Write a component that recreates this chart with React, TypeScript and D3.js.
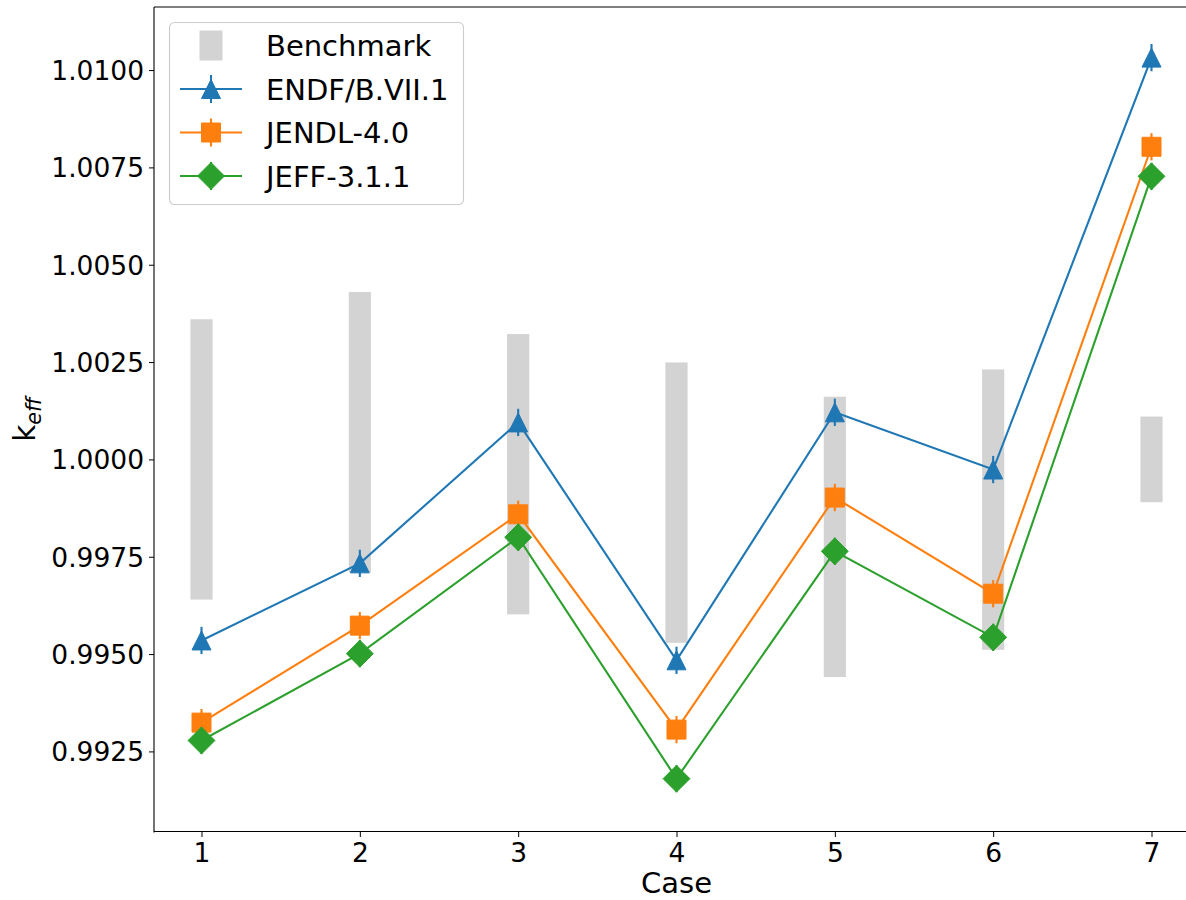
import React, { useRef, useEffect } from "react";
import * as d3 from "d3";

// data
const cases = [1, 2, 3, 4, 5, 6, 7];
const benchK = [1.0, 1.0007, 0.99962, 0.99889, 0.99801, 0.99871, 1.0];
const benchUnc = [0.0036, 0.0036, 0.0036, 0.0036, 0.0036, 0.0036, 0.0011];
const endfK = [0.99535, 0.99733, 1.00095, 0.99484, 1.00121, 0.99974, 1.01032];
const endfUnc = [0.00035, 0.00035, 0.00035, 0.00035, 0.00035, 0.00035, 0.00035];
const jendlK = [0.99324, 0.99573, 0.99859, 0.99306, 0.99902, 0.99655, 1.00803];
const jendlUnc = [0.00035, 0.00035, 0.00035, 0.00035, 0.00035, 0.00035, 0.00035];
const jeffK = [0.99278, 0.99501, 0.998, 0.9918, 0.99764, 0.99543, 1.00727];
const jeffUnc = [0.00035, 0.00035, 0.00035, 0.00035, 0.00035, 0.00035, 0.00035];
const yTicks = [0.9925, 0.995, 0.9975, 1.0, 1.0025, 1.005, 1.0075, 1.01];
const seriesNames = ["ENDF/B.VII.1", "JENDL-4.0", "JEFF-3.1.1"];

const W = 1186;
const H = 900;
const FONT = "'DejaVu Sans', sans-serif";

const markerPath = (shape, s) => {
  const h = s / 2;
  if (shape === "tri") return `M0,${-h}L${h},${h}L${-h},${h}Z`;
  if (shape === "sq") return `M${-h},${-h}H${h}V${h}H${-h}Z`;
  const d = h * Math.SQRT2;
  return `M0,${-d}L${d},0L0,${d}L${-d},0Z`;
};

const App = () => {
  const chartRef = useRef(null);

  useEffect(() => {
    drawChart();
  }, []);

  const drawChart = () => {
    if (!chartRef.current) return;
    const left = 154, right = 1199, top = 7, bottom = 832;

    d3.select(chartRef.current).selectAll("*").remove();
    const svg = d3.select(chartRef.current);

    const x = d3.scaleLinear().domain([0.7, 7.3]).range([left, right]);
    const y = d3.scaleLinear().domain([0.99043, 1.01162]).range([bottom, top]);

    const series = [
      { name: seriesNames[0], k: endfK, unc: endfUnc, color: "#1f77b4", shape: "tri" },
      { name: seriesNames[1], k: jendlK, unc: jendlUnc, color: "#ff7f0e", shape: "sq" },
      { name: seriesNames[2], k: jeffK, unc: jeffUnc, color: "#2ca02c", shape: "dia" },
    ];

    const plot = svg.append("g");

    // benchmark bands
    const bw = x(1.07) - x(1);
    plot
      .selectAll(".bench")
      .data(cases)
      .enter()
      .append("rect")
      .attr("x", (d) => x(d) - bw)
      .attr("width", bw * 2)
      .attr("y", (d, i) => y(benchK[i] + benchUnc[i]))
      .attr("height", (d, i) => y(benchK[i] - benchUnc[i]) - y(benchK[i] + benchUnc[i]))
      .attr("fill", "#d3d3d3");

    const line = d3
      .line()
      .x((d) => x(d[0]))
      .y((d) => y(d[1]));

    series.forEach((s) => {
      const pts = cases.map((c, i) => [c, s.k[i]]);
      plot
        .append("path")
        .attr("d", line(pts))
        .attr("fill", "none")
        .attr("stroke", s.color)
        .attr("stroke-width", 2.1);
      plot
        .selectAll(null)
        .data(cases)
        .enter()
        .append("line")
        .attr("x1", (d) => x(d))
        .attr("x2", (d) => x(d))
        .attr("y1", (d, i) => y(s.k[i] + s.unc[i]))
        .attr("y2", (d, i) => y(s.k[i] - s.unc[i]))
        .attr("stroke", s.color)
        .attr("stroke-width", 2.1);
      plot
        .selectAll(null)
        .data(cases)
        .enter()
        .append("path")
        .attr("transform", (d, i) => `translate(${x(d)},${y(s.k[i])})`)
        .attr("d", markerPath(s.shape, 19))
        .attr("fill", s.color)
        .attr("stroke", s.color)
        .attr("stroke-width", 1);
    });

    // axes
    const yAxis = svg
      .append("g")
      .attr("transform", `translate(${left},0)`)
      .call(d3.axisLeft(y).tickValues(yTicks).tickFormat(d3.format(".4f")).tickSize(5).tickPadding(5));
    yAxis.select(".domain").remove();
    yAxis.selectAll("text").attr("font-size", 26.5).attr("font-family", FONT).attr("fill", "#000").attr("dy", "0.36em");

    const xAxis = svg
      .append("g")
      .attr("transform", `translate(0,${bottom})`)
      .call(d3.axisBottom(x).tickValues(cases).tickFormat(d3.format("d")).tickSize(5).tickPadding(5));
    xAxis.select(".domain").remove();
    xAxis.selectAll("text").attr("font-size", 26.5).attr("font-family", FONT).attr("fill", "#000").attr("dy", "0.76em");

    // spines
    svg.append("line").attr("x1", left).attr("x2", left).attr("y1", top).attr("y2", bottom + 0.5).attr("stroke", "#000").attr("stroke-width", 1.1);
    svg.append("line").attr("x1", left).attr("x2", right).attr("y1", top).attr("y2", top).attr("stroke", "#000").attr("stroke-width", 1.1);
    svg.append("line").attr("x1", left).attr("x2", right).attr("y1", bottom - 0.5).attr("y2", bottom - 0.5).attr("stroke", "#000").attr("stroke-width", 1);
    svg.append("line").attr("x1", right).attr("x2", right).attr("y1", top).attr("y2", bottom).attr("stroke", "#000").attr("stroke-width", 1.1);

    // axis labels
    svg
      .append("text")
      .attr("x", (left + right) / 2)
      .attr("y", 893)
      .attr("text-anchor", "middle")
      .attr("font-family", FONT)
      .attr("font-size", 29)
      .text("Case");

    const yl = svg
      .append("text")
      .attr("transform", `translate(35,${(top + bottom) / 2}) rotate(-90)`)
      .attr("text-anchor", "middle")
      .attr("font-family", FONT)
      .attr("font-size", 29.5);
    yl.append("tspan").text("k");
    yl.append("tspan").attr("font-style", "italic").attr("font-size", 20.5).attr("dy", 6).text("eff");

    // legend
    const lg = svg.append("g");
    lg.append("rect")
      .attr("x", 169.5).attr("y", 22.5).attr("width", 294).attr("height", 182).attr("rx", 5)
      .attr("fill", "#fff").attr("fill-opacity", 0.8).attr("stroke", "#cccccc").attr("stroke-width", 1.1);
    const rowY = [45.5, 89, 132.5, 176];
    lg.append("rect").attr("x", 199.5).attr("y", rowY[0] - 15).attr("width", 23).attr("height", 30).attr("fill", "#d3d3d3");
    const labels = ["Benchmark", ...seriesNames];
    labels.forEach((t, i) => {
      lg.append("text")
        .attr("x", 266).attr("y", rowY[i] + 10.5)
        .attr("font-family", FONT).attr("font-size", 29).attr("fill", "#000")
        .text(t);
    });
    series.forEach((s, i) => {
      const cy = rowY[i + 1];
      lg.append("line").attr("x1", 180).attr("x2", 242).attr("y1", cy).attr("y2", cy).attr("stroke", s.color).attr("stroke-width", 2.1);
      lg.append("line").attr("x1", 211).attr("x2", 211).attr("y1", cy - 14).attr("y2", cy + 14).attr("stroke", s.color).attr("stroke-width", 2.1);
      lg.append("path")
        .attr("transform", `translate(211,${cy})`)
        .attr("d", markerPath(s.shape, 19))
        .attr("fill", s.color).attr("stroke", s.color).attr("stroke-width", 1);
    });
  };

  return (
    <svg
      ref={chartRef}
      width={W}
      height={H}
      style={{ position: "absolute", left: 0, top: 0, background: "#fff" }}
    ></svg>
  );
};

export default App;
